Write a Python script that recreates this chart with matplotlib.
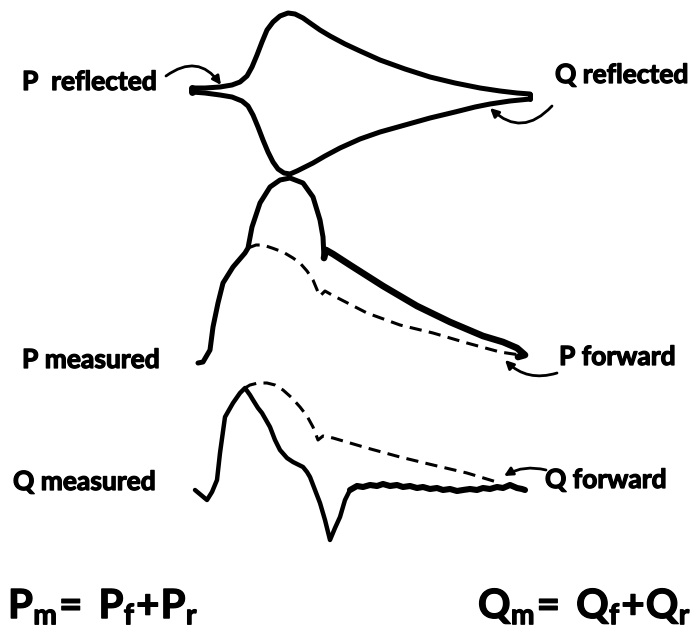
import matplotlib
matplotlib.use("Agg")
import matplotlib.pyplot as plt
import matplotlib.patheffects as pe
from matplotlib.patches import FancyArrowPatch

plt.rcParams['font.family'] = ['Lato', 'DejaVu Sans']
plt.rcParams['mathtext.fontset'] = 'custom'
plt.rcParams['mathtext.rm'] = 'Lato:bold'
plt.rcParams['mathtext.it'] = 'Lato:bold'
plt.rcParams['mathtext.bf'] = 'Lato:bold'

# --- traces: time samples and amplitude (positive up) relative to each panel's baseline ---

# reflected waves (top panel)
p_refl_t = [192, 205, 220, 232, 240, 247, 252, 257, 262, 267, 273, 280, 288, 295, 303, 310,
            320, 330, 345, 360, 380, 405, 430, 455, 480, 500, 517, 530]
p_refl_v = [2, 2, 3, 5, 8, 14, 23, 35, 48, 60, 68, 74, 77, 76, 72, 67,
            60, 54, 46, 39, 30, 21, 13, 7, 2, -1, -3, -4]
q_refl_t = [192, 205, 220, 232, 242, 248, 253, 258, 263, 268, 273, 278, 284, 290, 297, 305,
            313, 325, 340, 360, 380, 405, 430, 455, 475, 490, 510, 530]
q_refl_v = [-2, -3, -5, -7, -11, -16, -25, -37, -50, -62, -72, -79, -83, -84, -81, -77,
            -73, -66, -58, -49, -42, -35, -28, -22, -17, -14, -11, -9]

# pressure (middle panel)
p_meas_t = [198, 203, 210, 213, 218, 223, 233, 245, 248, 252, 260, 270, 280, 290, 303, 313,
            320, 323, 324, 326, 333, 350, 383, 417, 450, 483, 503, 517, 525, 518]
p_meas_v = [-1, 0, 12, 35, 59, 79, 95, 109, 114, 135, 159, 175, 182, 184, 179, 165,
            142, 125, 104, 112, 108, 97, 76, 56, 40, 26, 20, 14, 7, 5]
p_fwd_t = [248, 256, 263, 272, 283, 293, 300, 307, 313, 318, 320, 325, 332, 367, 400, 433,
           467, 500, 520]
p_fwd_v = [114, 117, 117, 114, 110, 104, 99, 91, 82, 70, 66, 71, 67, 49, 37, 29,
           19, 10, 7]

# flow (bottom panel)
q_meas_t = [195, 201, 207, 212, 217, 220, 225, 233, 240, 245, 250, 253, 258, 262, 270, 275,
            280, 287, 293, 303, 307, 310, 315, 320, 325, 330, 335, 340, 345, 350,
            357, 363, 370, 377, 383, 390, 397, 403, 410, 417, 423, 430, 437, 443, 450,
            457, 463, 470, 477, 483, 490, 497, 503, 510, 517, 522, 525]
q_meas_v = [0, -5, -10, -2, 10, 37, 73, 87, 97, 102, 95, 90, 82, 77, 63, 50,
            40, 32, 28, 23, 18, 13, 0, -13, -30, -50, -38, -27, -10, 0,
            4, 3, 5, 4, 6, 4, 5, 3, 4, 2, 3, 1, 2, 0, 1,
            -1, 0, 1, 0, 2, 1, 3, 2, 5, 2, 1, 0]
q_fwd_t = [245, 250, 258, 267, 275, 283, 292, 300, 307, 313, 318, 323, 333, 367, 400, 433,
           467, 500]
q_fwd_v = [102, 105, 107, 107, 105, 100, 92, 83, 74, 63, 50, 54, 52, 42, 33, 25,
           17, 7]

# panel baselines (data y, axis runs upward)
base_top = 542
base_mid = 270
base_bot = 142

fig = plt.figure(figsize=(6.97, 6.32), dpi=100)
ax = fig.add_axes([0, 0, 1, 1])
ax.set_xlim(0, 697)
ax.set_ylim(0, 632)
ax.axis('off')


def shift(vals, base):
    return [base + v for v in vals]


solid = dict(color='black', solid_capstyle='round', solid_joinstyle='round')
dashed = dict(color='black', lw=2.2, dashes=(4, 2.4), dash_capstyle='butt')

# top loop
ax.plot(p_refl_t, shift(p_refl_v, base_top), lw=3.6, **solid)
ax.plot(q_refl_t, shift(q_refl_v, base_top), lw=3.6, **solid)
ax.plot([p_refl_t[-1], q_refl_t[-1]], [base_top + p_refl_v[-1], base_top + q_refl_v[-1]],
        lw=3.6, **solid)
ax.plot([p_refl_t[0], q_refl_t[0]], [base_top + p_refl_v[0], base_top + q_refl_v[0]],
        lw=5.0, **solid)

# pressure
ax.plot(p_meas_t[:19], shift(p_meas_v[:19], base_mid), lw=3.6, **solid)
ax.plot(p_meas_t[18:], shift(p_meas_v[18:], base_mid), lw=4.8, **solid)
ax.plot(p_fwd_t, shift(p_fwd_v, base_mid), **dashed)

# flow
ax.plot(q_meas_t[:30], shift(q_meas_v[:30], base_bot), lw=3.2, **solid)
ax.plot(q_meas_t[29:], shift(q_meas_v[29:], base_bot), lw=4.4, **solid)
ax.plot(q_fwd_t, shift(q_fwd_v, base_bot), **dashed)

# labels, thickened with a thin outline
heavy = [pe.withStroke(linewidth=0.9, foreground='black')]
lab = dict(fontsize=19, fontweight='bold', va='center', ha='left', color='black',
           path_effects=heavy)
ax.text(22, 632 - 82, 'P  reflected', **lab)
ax.text(555, 632 - 75, 'Q reflected', **lab)
ax.text(22, 632 - 360, 'P measured', **lab)
ax.text(559, 632 - 357, 'P forward', **lab)
ax.text(13, 632 - 482, 'Q measured', **lab)
ax.text(545, 632 - 480, 'Q forward', **lab)

eq = dict(fontsize=29, va='center', ha='left', color='black', path_effects=heavy)
ax.text(8, 632 - 607, r'$\mathrm{P_m\!=\;P_f\!+\!P_r}$', **eq)
ax.text(478, 632 - 607, r'$\mathrm{Q_m\!=\;Q_f\!+\!Q_r}$', **eq)


def arrow(start, end, rad):
    a = FancyArrowPatch((start[0], 632 - start[1]), (end[0], 632 - end[1]),
                        connectionstyle=f'arc3,rad={rad}',
                        arrowstyle='-|>,head_length=5,head_width=2.5',
                        lw=2.0, color='black', shrinkA=0, shrinkB=0)
    ax.add_patch(a)


arrow((166, 76), (221, 85), -0.5)
arrow((552, 106), (490, 108), -0.5)
arrow((557, 373), (505, 360), -0.3)
arrow((546, 470), (504, 476), 0.2)

fig.savefig('out.png', dpi=100, facecolor='white')
